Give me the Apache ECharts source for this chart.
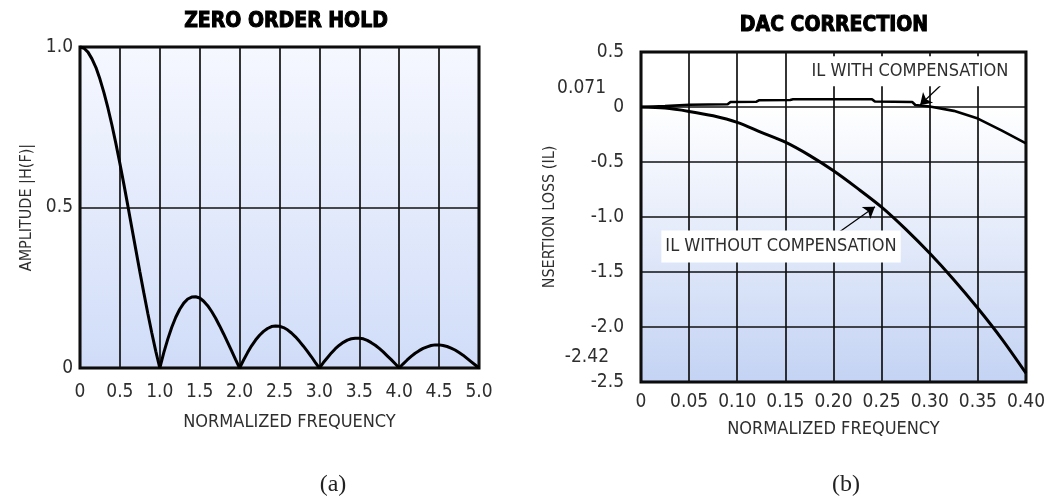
<!DOCTYPE html>
<html>
<head>
<meta charset="utf-8">
<script src="https://cdn.jsdelivr.net/npm/echarts@6/dist/echarts.min.js"></script>
<style>
  html, body { margin: 0; padding: 0; background: #ffffff; }
  #chart { width: 1048px; height: 502px; }
</style>
</head>
<body>
<div id="chart"></div>
<script>
// (a) Zero-order-hold amplitude response |H(f)| vs normalized frequency
const zohFreq = [
  0, 0.05, 0.1, 0.15, 0.2, 0.25, 0.3, 0.35, 0.4, 0.45,
  0.5, 0.55, 0.6, 0.65, 0.7, 0.75, 0.8, 0.85, 0.9, 0.95,
  1.0, 1.05, 1.1, 1.15, 1.2, 1.25, 1.3, 1.35, 1.4, 1.45,
  1.5, 1.55, 1.6, 1.65, 1.7, 1.75, 1.8, 1.85, 1.9, 1.95,
  2.0, 2.05, 2.1, 2.15, 2.2, 2.25, 2.3, 2.35, 2.4, 2.45,
  2.5, 2.55, 2.6, 2.65, 2.7, 2.75, 2.8, 2.85, 2.9, 2.95,
  3.0, 3.05, 3.1, 3.15, 3.2, 3.25, 3.3, 3.35, 3.4, 3.45,
  3.5, 3.55, 3.6, 3.65, 3.7, 3.75, 3.8, 3.85, 3.9, 3.95,
  4.0, 4.05, 4.1, 4.15, 4.2, 4.25, 4.3, 4.35, 4.4, 4.45,
  4.5, 4.55, 4.6, 4.65, 4.7, 4.75, 4.8, 4.85, 4.9, 4.95, 5.0
];
const zohAmplitude = [
  1.0, 0.996, 0.984, 0.963, 0.936, 0.900, 0.858, 0.810, 0.757, 0.699,
  0.637, 0.572, 0.505, 0.436, 0.368, 0.300, 0.234, 0.170, 0.109, 0.052,
  0.0, 0.048, 0.090, 0.127, 0.158, 0.183, 0.202, 0.215, 0.221, 0.222,
  0.218, 0.208, 0.194, 0.176, 0.155, 0.131, 0.106, 0.080, 0.053, 0.026,
  0.0, 0.025, 0.048, 0.069, 0.087, 0.102, 0.114, 0.123, 0.129, 0.131,
  0.130, 0.126, 0.119, 0.109, 0.097, 0.083, 0.068, 0.052, 0.035, 0.017,
  0.0, 0.017, 0.032, 0.047, 0.060, 0.071, 0.080, 0.087, 0.091, 0.093,
  0.093, 0.091, 0.086, 0.079, 0.071, 0.061, 0.050, 0.038, 0.026, 0.013,
  0.0, 0.013, 0.025, 0.036, 0.046, 0.054, 0.061, 0.066, 0.070, 0.072,
  0.072, 0.070, 0.067, 0.062, 0.056, 0.048, 0.040, 0.030, 0.020, 0.010, 0.0
];
const zohXTicks = ['0', '0.5', '1.0', '1.5', '2.0', '2.5', '3.0', '3.5', '4.0', '4.5', '5.0'];
const zohYTicks = ['0', '0.5', '1.0'];

// (b) DAC correction: insertion loss with and without compensation
const dacFreq = [
  0, 0.025, 0.05, 0.075, 0.1, 0.125, 0.15, 0.175, 0.2,
  0.225, 0.25, 0.275, 0.3, 0.325, 0.35, 0.375, 0.4
];
const ilWithout = [
  0, -0.01, -0.04, -0.08, -0.14, -0.23, -0.32, -0.44, -0.58,
  -0.74, -0.91, -1.11, -1.33, -1.57, -1.83, -2.11, -2.42
];
const compFreq = [
  0, 0.025, 0.05, 0.09, 0.093, 0.12, 0.123, 0.155, 0.158,
  0.24, 0.243, 0.282, 0.285, 0.3, 0.325, 0.35, 0.375, 0.4
];
const ilWith = [
  0, 0.008, 0.02, 0.025, 0.045, 0.048, 0.062, 0.064, 0.071,
  0.071, 0.05, 0.045, 0.018, 0.005, -0.035, -0.105, -0.215, -0.33
];
const dacXTicks = ['0', '0.05', '0.10', '0.15', '0.20', '0.25', '0.30', '0.35', '0.40'];
const dacYTicks = ['-2.5', '-2.0', '-1.5', '-1.0', '-0.5', '0', '0.5'];
const ilWithPeak = 0.071;
const ilWithoutEnd = -2.42;

const withLabel = 'IL WITH COMPENSATION';
const withoutLabel = 'IL WITHOUT COMPENSATION';

const NARROW = "'Liberation Sans Narrow', 'DejaVu Sans Condensed', 'Liberation Sans', sans-serif";
const SERIF = "'Liberation Serif', 'DejaVu Serif', serif";
const TEXT = '#2e2e2e';

const zip = (xs, ys) => xs.map((x, i) => [x, ys[i]]);

const chart = echarts.init(document.getElementById('chart'), null, { renderer: 'canvas' });

const gridLine = { show: true, lineStyle: { color: '#111111', width: 1.7 } };
const tickText = { color: TEXT, fontSize: 19, fontFamily: NARROW };

chart.setOption({
  animation: false,
  backgroundColor: '#ffffff',
  grid: [
    {
      left: 80, top: 47, width: 399, height: 321,
      show: true, borderColor: '#000', borderWidth: 3,
      backgroundColor: {
        type: 'linear', x: 0, y: 0, x2: 0, y2: 1,
        colorStops: [{ offset: 0, color: '#f6f8ff' }, { offset: 1, color: '#d0dcf8' }]
      }
    },
    {
      left: 641, top: 52, width: 385, height: 330,
      show: true, borderColor: '#000', borderWidth: 3,
      backgroundColor: {
        type: 'linear', x: 0, y: 0, x2: 0, y2: 1,
        colorStops: [
          { offset: 0, color: '#ffffff' },
          { offset: 0.167, color: '#ffffff' },
          { offset: 1, color: '#c4d3f4' }
        ]
      }
    }
  ],
  xAxis: [
    {
      type: 'value', gridIndex: 0, min: 0, max: 5, interval: 0.5,
      axisLine: { show: false }, axisTick: { show: false },
      splitLine: gridLine,
      axisLabel: Object.assign({ margin: 15, formatter: v => zohXTicks[Math.round(v / 0.5)] }, tickText),
      name: 'NORMALIZED FREQUENCY', nameLocation: 'middle', nameGap: 45,
      nameTextStyle: { color: TEXT, fontSize: 18, fontFamily: NARROW, padding: [0, 0, 0, 20] }
    },
    {
      type: 'value', gridIndex: 1, min: 0, max: 0.4, interval: 0.05,
      axisLine: { show: false }, axisTick: { show: false },
      splitLine: gridLine,
      axisLabel: Object.assign({ margin: 11, formatter: v => dacXTicks[Math.round(v / 0.05)] }, tickText),
      name: 'NORMALIZED FREQUENCY', nameLocation: 'middle', nameGap: 38,
      nameTextStyle: { color: TEXT, fontSize: 18, fontFamily: NARROW }
    }
  ],
  yAxis: [
    {
      type: 'value', gridIndex: 0, min: 0, max: 1, interval: 0.5,
      axisLine: { show: false }, axisTick: { show: false },
      splitLine: gridLine,
      axisLabel: Object.assign({ margin: 7, formatter: v => zohYTicks[Math.round(v / 0.5)] }, tickText),
      name: 'AMPLITUDE |H(F)|', nameLocation: 'middle', nameGap: 45,
      nameTextStyle: { color: TEXT, fontSize: 16, fontFamily: NARROW }
    },
    {
      type: 'value', gridIndex: 1, min: -2.5, max: 0.5, interval: 0.5,
      axisLine: { show: false }, axisTick: { show: false },
      splitLine: gridLine,
      axisLabel: Object.assign({ margin: 17, formatter: v => dacYTicks[Math.round((v + 2.5) / 0.5)] }, tickText),
      name: 'NSERTION LOSS (IL)', nameLocation: 'middle', nameGap: 83,
      nameTextStyle: { color: TEXT, fontSize: 16, fontFamily: NARROW }
    }
  ],
  graphic: [
    { type: 'text', x: 286, y: 22, style: { text: 'ZERO ORDER HOLD', align: 'center', verticalAlign: 'middle',
      font: "bold 21px " + NARROW, fill: '#000', stroke: '#000', lineWidth: 1 } },
    { type: 'text', x: 834, y: 26, style: { text: 'DAC CORRECTION', align: 'center', verticalAlign: 'middle',
      font: "bold 21px " + NARROW, fill: '#000', stroke: '#000', lineWidth: 1 } },
    { type: 'text', x: 333, y: 485, style: { text: '(a)', align: 'center', verticalAlign: 'middle',
      font: "24px " + SERIF, fill: '#222' } },
    { type: 'text', x: 846, y: 485, style: { text: '(b)', align: 'center', verticalAlign: 'middle',
      font: "24px " + SERIF, fill: '#222' } }
  ],
  series: [
    {
      name: 'ZOH', type: 'line', xAxisIndex: 0, yAxisIndex: 0,
      data: zip(zohFreq, zohAmplitude), symbol: 'none', clip: false,
      lineStyle: { color: '#000', width: 3 }, z: 5
    },
    {
      name: withoutLabel, type: 'line', xAxisIndex: 1, yAxisIndex: 1,
      data: zip(dacFreq, ilWithout), symbol: 'none', smooth: 0.3, clip: false,
      lineStyle: { color: '#000', width: 3 }, z: 5,
      markPoint: {
        symbol: 'circle', symbolSize: 0, silent: true,
        data: [
          {
            coord: [0.1455, -1.268],
            label: { show: true, position: 'inside', formatter: withoutLabel, color: TEXT, fontSize: 18,
              fontFamily: NARROW, backgroundColor: '#ffffff', padding: [7, 4] }
          },
          {
            coord: [0, ilWithoutEnd],
            label: { show: true, position: 'left', distance: 32, offset: [0, -16],
              formatter: String(ilWithoutEnd), color: TEXT, fontSize: 19, fontFamily: NARROW }
          }
        ]
      },
      markLine: {
        silent: true, symbol: ['none', 'arrow'], symbolSize: 11,
        label: { show: false },
        lineStyle: { color: '#000', width: 1.2, type: 'solid' },
        data: [[{ coord: [0.2016, -1.164] }, { coord: [0.2431, -0.906] }]]
      }
    },
    {
      name: withLabel, type: 'line', xAxisIndex: 1, yAxisIndex: 1,
      data: zip(compFreq, ilWith), symbol: 'none', clip: false,
      lineStyle: { color: '#000', width: 2.6 }, z: 6,
      markPoint: {
        symbol: 'circle', symbolSize: 0, silent: true,
        data: [
          {
            coord: [0.2795, 0.325],
            label: { show: true, position: 'inside', formatter: withLabel, color: TEXT, fontSize: 18,
              fontFamily: NARROW, backgroundColor: '#ffffff', padding: [6, 4] }
          },
          {
            coord: [0, ilWithPeak],
            label: { show: true, position: 'left', distance: 35, offset: [0, -11],
              formatter: String(ilWithPeak), color: TEXT, fontSize: 19, fontFamily: NARROW }
          }
        ]
      },
      markLine: {
        silent: true, symbol: ['none', 'arrow'], symbolSize: 11,
        label: { show: false },
        lineStyle: { color: '#000', width: 1.2, type: 'solid' },
        data: [[{ coord: [0.314, 0.218] }, { coord: [0.29, 0.018] }]]
      }
    }
  ]
});
</script>
</body>
</html>
